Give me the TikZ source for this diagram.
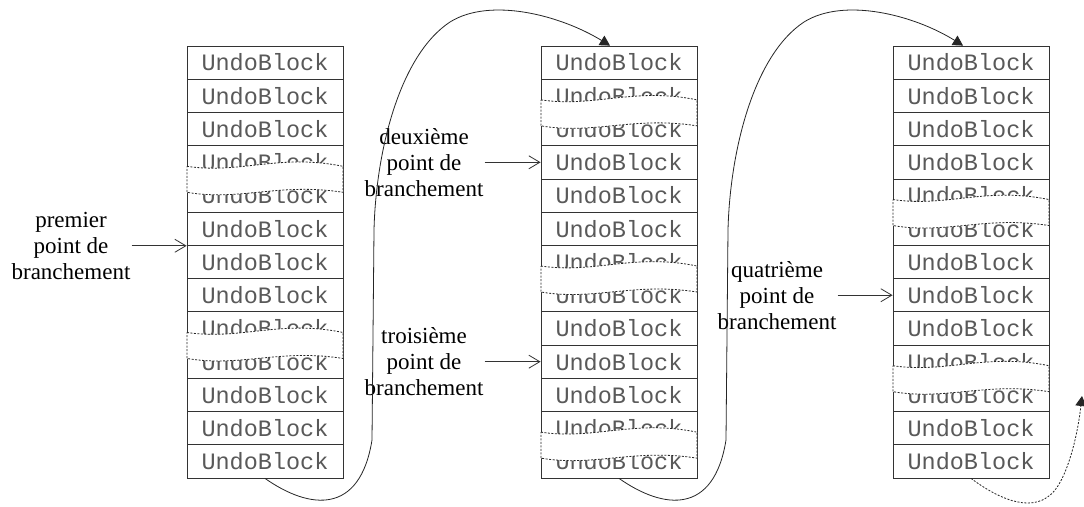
\documentclass[tikz,border=0pt]{standalone}
\usepackage{fontspec}
\setmainfont{Liberation Serif}
\setmonofont{Liberation Mono}
\usetikzlibrary{positioning,arrows.meta}
\begin{document}
\begin{tikzpicture}[x=1pt,y=-1pt]
				\tikzstyle{blk}=[draw=black!80,line width=0.8pt,minimum width=156pt,minimum height=33.23pt,inner sep=0pt,text=black!65,font=\fontsize{23.5}{23.5}\selectfont\ttfamily]
				\tikzstyle{tear}=[fill=white,draw=black!85,line width=0.8pt,dash pattern=on 2pt off 1.5pt]
				\tikzstyle{lbl}=[align=center,inner sep=1pt,font=\fontsize{23}{26}\selectfont]
				\tikzstyle{ptr}=[draw=black!80,line width=0.8pt,-{Straight Barb[length=11pt,width=13pt]}]
				\tikzstyle{link}=[draw=black!85,line width=0.8pt,-{Triangle[length=10pt,width=11pt]}]
				\useasboundingbox[fill=white](0,0)rectangle(1084,506);
				% the three stacks
				\foreach \c/\x in {1/265,2/619,3/971}
					\foreach \r in {1,...,13}
						\node[blk](c\c-r\r)at(\x,{46+33.23*(\r-0.5)}){UndoBlock};
				% torn parts
				\foreach \n in {c1-r4,c1-r9,c2-r2,c2-r7,c2-r12,c3-r5,c3-r10}
					\filldraw[tear,shift={(\n.south)}](-78,-13)..controls(-25,-5)and(15,-26)..(78,-13)--(78,13)..controls(15,3)and(-25,22)..(-78,13)--cycle;
				% branch points
				\node(p1)[lbl,left=55pt of c1-r6.south west]{premier\\point de\\branchement};
				\node(p2)[lbl,left=56pt of c2-r4.west]{deuxième\\point de\\branchement};
				\node(p3)[lbl,left=56pt of c2-r10.west]{troisième\\point de\\branchement};
				\node(p4)[lbl,left=55pt of c3-r8.west]{quatrième\\point de\\branchement};
				\draw[ptr](p1)--(c1-r6.south west);
				\draw[ptr](p2)--(c2-r4.west);
				\draw[ptr](p3)--(c2-r10.west);
				\draw[ptr](p4)--(c3-r8.west);
				% from one stack to the next
				\draw[link](c1-r13.south)..controls(310,510)and(360,515)..(372,440)--(374,230)..controls(376,150)and(400,55)..(450,22)..controls(490,-3)and(560,15)..([xshift=-9pt]c2-r1.north);
				\draw[link](c2-r13.south)..controls(664,510)and(714,515)..(726,440)--(728,230)..controls(730,150)and(754,55)..(804,22)..controls(844,-3)and(914,15)..([xshift=-8pt]c3-r1.north);
				\coordinate(more)at(1082,396);
				\draw[link,dash pattern=on 2pt off 1.5pt](c3-r13.south)..controls(1000,500)and(1035,515)..(1055,490)..controls(1067,475)and(1077,440)..(more);
			\end{tikzpicture}
\end{document}
